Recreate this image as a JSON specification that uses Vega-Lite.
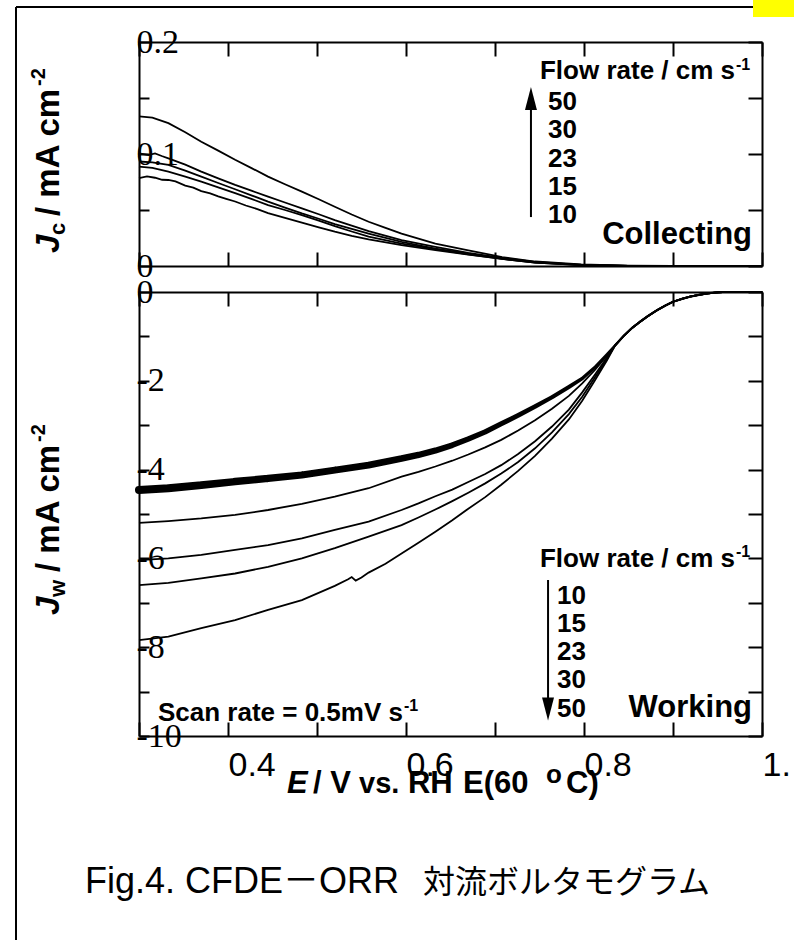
{
"$schema": "https://vega.github.io/schema/vega-lite/v6.json",
"autosize": {"type": "pad"},
"padding": {"left": 15, "top": 0, "right": 0, "bottom": 0},
"background": "white",
"bounds": "flush",
"spacing": 26,
"config": {"view": {"stroke": null}, "axis": {"grid": false, "domainColor": "black", "tickColor": "black", "labelColor": "black", "domainWidth": 2, "tickWidth": 2}},
"datasets": {
"col": [
{"flow":50,"E":0.300,"J":0.1336},{"flow":50,"E":0.315,"J":0.1325},{"flow":50,"E":0.333,"J":0.1275},{"flow":50,"E":0.352,"J":0.1195},{"flow":50,"E":0.370,"J":0.1110},{"flow":50,"E":0.389,"J":0.1030},{"flow":50,"E":0.408,"J":0.0948},{"flow":50,"E":0.427,"J":0.0872},{"flow":50,"E":0.445,"J":0.0798},{"flow":50,"E":0.464,"J":0.0730},{"flow":50,"E":0.483,"J":0.0664},{"flow":50,"E":0.502,"J":0.0596},{"flow":50,"E":0.520,"J":0.0529},{"flow":50,"E":0.539,"J":0.0460},{"flow":50,"E":0.558,"J":0.0395},{"flow":50,"E":0.577,"J":0.0340},{"flow":50,"E":0.595,"J":0.0290},{"flow":50,"E":0.633,"J":0.0200},{"flow":50,"E":0.670,"J":0.0140},{"flow":50,"E":0.708,"J":0.0080},{"flow":50,"E":0.745,"J":0.0040},{"flow":50,"E":0.797,"J":0.0015},{"flow":50,"E":0.850,"J":0.0004},{"flow":50,"E":0.900,"J":0.0},{"flow":50,"E":1.000,"J":0.0},
{"flow":30,"E":0.300,"J":0.1006},{"flow":30,"E":0.3105,"J":0.0991},{"flow":30,"E":0.318,"J":0.1006},{"flow":30,"E":0.3255,"J":0.0982},{"flow":30,"E":0.333,"J":0.0961},{"flow":30,"E":0.352,"J":0.0905},{"flow":30,"E":0.370,"J":0.0843},{"flow":30,"E":0.389,"J":0.0783},{"flow":30,"E":0.408,"J":0.0724},{"flow":30,"E":0.427,"J":0.0670},{"flow":30,"E":0.445,"J":0.0619},{"flow":30,"E":0.464,"J":0.0567},{"flow":30,"E":0.483,"J":0.0515},{"flow":30,"E":0.502,"J":0.0462},{"flow":30,"E":0.520,"J":0.0410},{"flow":30,"E":0.539,"J":0.0360},{"flow":30,"E":0.558,"J":0.0311},{"flow":30,"E":0.595,"J":0.0230},{"flow":30,"E":0.633,"J":0.0170},{"flow":30,"E":0.670,"J":0.0117},{"flow":30,"E":0.708,"J":0.0072},{"flow":30,"E":0.745,"J":0.0036},{"flow":30,"E":0.797,"J":0.0010},{"flow":30,"E":0.850,"J":0.0002},{"flow":30,"E":0.900,"J":0.0},{"flow":30,"E":1.000,"J":0.0},
{"flow":23,"E":0.300,"J":0.0933},{"flow":23,"E":0.315,"J":0.0925},{"flow":23,"E":0.333,"J":0.0903},{"flow":23,"E":0.352,"J":0.0852},{"flow":23,"E":0.370,"J":0.0798},{"flow":23,"E":0.389,"J":0.0741},{"flow":23,"E":0.408,"J":0.0685},{"flow":23,"E":0.427,"J":0.0629},{"flow":23,"E":0.445,"J":0.0574},{"flow":23,"E":0.464,"J":0.0522},{"flow":23,"E":0.483,"J":0.0470},{"flow":23,"E":0.502,"J":0.0422},{"flow":23,"E":0.520,"J":0.0374},{"flow":23,"E":0.539,"J":0.0332},{"flow":23,"E":0.558,"J":0.0290},{"flow":23,"E":0.595,"J":0.0215},{"flow":23,"E":0.633,"J":0.0156},{"flow":23,"E":0.670,"J":0.0111},{"flow":23,"E":0.708,"J":0.0066},{"flow":23,"E":0.745,"J":0.0033},{"flow":23,"E":0.797,"J":0.0010},{"flow":23,"E":0.850,"J":0.0002},{"flow":23,"E":0.900,"J":0.0},{"flow":23,"E":1.000,"J":0.0},
{"flow":15,"E":0.300,"J":0.0888},{"flow":15,"E":0.315,"J":0.0876},{"flow":15,"E":0.333,"J":0.0843},{"flow":15,"E":0.352,"J":0.0798},{"flow":15,"E":0.370,"J":0.0753},{"flow":15,"E":0.389,"J":0.0702},{"flow":15,"E":0.408,"J":0.0650},{"flow":15,"E":0.427,"J":0.0597},{"flow":15,"E":0.445,"J":0.0544},{"flow":15,"E":0.464,"J":0.0500},{"flow":15,"E":0.483,"J":0.0455},{"flow":15,"E":0.502,"J":0.0405},{"flow":15,"E":0.520,"J":0.0356},{"flow":15,"E":0.539,"J":0.0308},{"flow":15,"E":0.558,"J":0.0262},{"flow":15,"E":0.595,"J":0.0200},{"flow":15,"E":0.633,"J":0.0150},{"flow":15,"E":0.670,"J":0.0105},{"flow":15,"E":0.708,"J":0.0063},{"flow":15,"E":0.745,"J":0.0030},{"flow":15,"E":0.797,"J":0.0008},{"flow":15,"E":0.850,"J":0.0001},{"flow":15,"E":0.900,"J":0.0},{"flow":15,"E":1.000,"J":0.0},
{"flow":10,"E":0.300,"J":0.0784},{"flow":10,"E":0.309,"J":0.0800},{"flow":10,"E":0.318,"J":0.0788},{"flow":10,"E":0.326,"J":0.0770},{"flow":10,"E":0.333,"J":0.0768},{"flow":10,"E":0.341,"J":0.0755},{"flow":10,"E":0.352,"J":0.0718},{"flow":10,"E":0.361,"J":0.0700},{"flow":10,"E":0.370,"J":0.0668},{"flow":10,"E":0.380,"J":0.0648},{"flow":10,"E":0.389,"J":0.0622},{"flow":10,"E":0.398,"J":0.0600},{"flow":10,"E":0.408,"J":0.0576},{"flow":10,"E":0.420,"J":0.0540},{"flow":10,"E":0.433,"J":0.0508},{"flow":10,"E":0.445,"J":0.0472},{"flow":10,"E":0.464,"J":0.0430},{"flow":10,"E":0.483,"J":0.0388},{"flow":10,"E":0.502,"J":0.0345},{"flow":10,"E":0.520,"J":0.0306},{"flow":10,"E":0.539,"J":0.0270},{"flow":10,"E":0.558,"J":0.0238},{"flow":10,"E":0.595,"J":0.0186},{"flow":10,"E":0.633,"J":0.0141},{"flow":10,"E":0.670,"J":0.0102},{"flow":10,"E":0.708,"J":0.0063},{"flow":10,"E":0.745,"J":0.0030},{"flow":10,"E":0.797,"J":0.0008},{"flow":10,"E":0.850,"J":0.0001},{"flow":10,"E":0.900,"J":0.0},{"flow":10,"E":1.000,"J":0.0}
],
"work": [
{"flow":10,"E":0.300,"J":-4.46},{"flow":10,"E":0.333,"J":-4.42},{"flow":10,"E":0.370,"J":-4.35},{"flow":10,"E":0.408,"J":-4.27},{"flow":10,"E":0.445,"J":-4.20},{"flow":10,"E":0.483,"J":-4.12},{"flow":10,"E":0.520,"J":-4.01},{"flow":10,"E":0.558,"J":-3.90},{"flow":10,"E":0.595,"J":-3.75},{"flow":10,"E":0.614,"J":-3.67},{"flow":10,"E":0.633,"J":-3.57},{"flow":10,"E":0.652,"J":-3.45},{"flow":10,"E":0.670,"J":-3.31},{"flow":10,"E":0.689,"J":-3.15},{"flow":10,"E":0.707,"J":-2.97},{"flow":10,"E":0.726,"J":-2.78},{"flow":10,"E":0.745,"J":-2.58},{"flow":10,"E":0.764,"J":-2.37},{"flow":10,"E":0.783,"J":-2.14},{"flow":10,"E":0.798,"J":-1.95},{"flow":10,"E":0.812,"J":-1.70},{"flow":10,"E":0.826,"J":-1.40},{"flow":10,"E":0.835,"J":-1.20},{"flow":10,"E":0.845,"J":-0.98},{"flow":10,"E":0.854,"J":-0.81},{"flow":10,"E":0.863,"J":-0.67},{"flow":10,"E":0.872,"J":-0.54},{"flow":10,"E":0.882,"J":-0.41},{"flow":10,"E":0.891,"J":-0.31},{"flow":10,"E":0.900,"J":-0.22},{"flow":10,"E":0.910,"J":-0.155},{"flow":10,"E":0.919,"J":-0.105},{"flow":10,"E":0.929,"J":-0.065},{"flow":10,"E":0.938,"J":-0.035},{"flow":10,"E":0.947,"J":-0.013},{"flow":10,"E":0.956,"J":0.0},{"flow":10,"E":1.000,"J":0.0},
{"flow":15,"E":0.300,"J":-5.20},{"flow":15,"E":0.333,"J":-5.16},{"flow":15,"E":0.370,"J":-5.10},{"flow":15,"E":0.408,"J":-5.02},{"flow":15,"E":0.445,"J":-4.91},{"flow":15,"E":0.483,"J":-4.77},{"flow":15,"E":0.520,"J":-4.61},{"flow":15,"E":0.558,"J":-4.42},{"flow":15,"E":0.595,"J":-4.16},{"flow":15,"E":0.614,"J":-4.05},{"flow":15,"E":0.633,"J":-3.93},{"flow":15,"E":0.652,"J":-3.80},{"flow":15,"E":0.670,"J":-3.66},{"flow":15,"E":0.689,"J":-3.50},{"flow":15,"E":0.707,"J":-3.33},{"flow":15,"E":0.726,"J":-3.12},{"flow":15,"E":0.745,"J":-2.89},{"flow":15,"E":0.764,"J":-2.63},{"flow":15,"E":0.783,"J":-2.34},{"flow":15,"E":0.798,"J":-2.06},{"flow":15,"E":0.812,"J":-1.76},{"flow":15,"E":0.826,"J":-1.43},{"flow":15,"E":0.835,"J":-1.20},{"flow":15,"E":0.845,"J":-0.98},{"flow":15,"E":0.854,"J":-0.81},{"flow":15,"E":0.863,"J":-0.67},{"flow":15,"E":0.872,"J":-0.54},{"flow":15,"E":0.882,"J":-0.41},{"flow":15,"E":0.891,"J":-0.31},{"flow":15,"E":0.900,"J":-0.22},{"flow":15,"E":0.910,"J":-0.155},{"flow":15,"E":0.919,"J":-0.105},{"flow":15,"E":0.929,"J":-0.065},{"flow":15,"E":0.938,"J":-0.035},{"flow":15,"E":0.947,"J":-0.013},{"flow":15,"E":0.956,"J":0.0},{"flow":15,"E":1.000,"J":0.0},
{"flow":23,"E":0.300,"J":-6.04},{"flow":23,"E":0.333,"J":-6.00},{"flow":23,"E":0.370,"J":-5.92},{"flow":23,"E":0.408,"J":-5.81},{"flow":23,"E":0.445,"J":-5.70},{"flow":23,"E":0.483,"J":-5.55},{"flow":23,"E":0.520,"J":-5.36},{"flow":23,"E":0.558,"J":-5.17},{"flow":23,"E":0.595,"J":-4.91},{"flow":23,"E":0.614,"J":-4.76},{"flow":23,"E":0.633,"J":-4.60},{"flow":23,"E":0.652,"J":-4.45},{"flow":23,"E":0.670,"J":-4.28},{"flow":23,"E":0.689,"J":-4.10},{"flow":23,"E":0.707,"J":-3.90},{"flow":23,"E":0.726,"J":-3.65},{"flow":23,"E":0.745,"J":-3.36},{"flow":23,"E":0.764,"J":-3.03},{"flow":23,"E":0.783,"J":-2.65},{"flow":23,"E":0.798,"J":-2.26},{"flow":23,"E":0.812,"J":-1.87},{"flow":23,"E":0.826,"J":-1.47},{"flow":23,"E":0.835,"J":-1.20},{"flow":23,"E":0.845,"J":-0.98},{"flow":23,"E":0.854,"J":-0.81},{"flow":23,"E":0.863,"J":-0.67},{"flow":23,"E":0.872,"J":-0.54},{"flow":23,"E":0.882,"J":-0.41},{"flow":23,"E":0.891,"J":-0.31},{"flow":23,"E":0.900,"J":-0.22},{"flow":23,"E":0.910,"J":-0.155},{"flow":23,"E":0.919,"J":-0.105},{"flow":23,"E":0.929,"J":-0.065},{"flow":23,"E":0.938,"J":-0.035},{"flow":23,"E":0.947,"J":-0.013},{"flow":23,"E":0.956,"J":0.0},{"flow":23,"E":1.000,"J":0.0},
{"flow":30,"E":0.300,"J":-6.60},{"flow":30,"E":0.333,"J":-6.55},{"flow":30,"E":0.370,"J":-6.45},{"flow":30,"E":0.408,"J":-6.34},{"flow":30,"E":0.445,"J":-6.19},{"flow":30,"E":0.483,"J":-6.00},{"flow":30,"E":0.520,"J":-5.77},{"flow":30,"E":0.558,"J":-5.51},{"flow":30,"E":0.595,"J":-5.25},{"flow":30,"E":0.614,"J":-5.08},{"flow":30,"E":0.633,"J":-4.90},{"flow":30,"E":0.652,"J":-4.71},{"flow":30,"E":0.670,"J":-4.52},{"flow":30,"E":0.689,"J":-4.31},{"flow":30,"E":0.707,"J":-4.09},{"flow":30,"E":0.726,"J":-3.83},{"flow":30,"E":0.745,"J":-3.52},{"flow":30,"E":0.764,"J":-3.16},{"flow":30,"E":0.783,"J":-2.75},{"flow":30,"E":0.798,"J":-2.36},{"flow":30,"E":0.812,"J":-1.93},{"flow":30,"E":0.826,"J":-1.50},{"flow":30,"E":0.835,"J":-1.20},{"flow":30,"E":0.845,"J":-0.98},{"flow":30,"E":0.854,"J":-0.81},{"flow":30,"E":0.863,"J":-0.67},{"flow":30,"E":0.872,"J":-0.54},{"flow":30,"E":0.882,"J":-0.41},{"flow":30,"E":0.891,"J":-0.31},{"flow":30,"E":0.900,"J":-0.22},{"flow":30,"E":0.910,"J":-0.155},{"flow":30,"E":0.919,"J":-0.105},{"flow":30,"E":0.929,"J":-0.065},{"flow":30,"E":0.938,"J":-0.035},{"flow":30,"E":0.947,"J":-0.013},{"flow":30,"E":0.956,"J":0.0},{"flow":30,"E":1.000,"J":0.0},
{"flow":50,"E":0.300,"J":-7.84},{"flow":50,"E":0.333,"J":-7.76},{"flow":50,"E":0.370,"J":-7.57},{"flow":50,"E":0.408,"J":-7.39},{"flow":50,"E":0.445,"J":-7.16},{"flow":50,"E":0.483,"J":-6.94},{"flow":50,"E":0.520,"J":-6.62},{"flow":50,"E":0.535,"J":-6.47},{"flow":50,"E":0.539,"J":-6.42},{"flow":50,"E":0.5435,"J":-6.50},{"flow":50,"E":0.550,"J":-6.43},{"flow":50,"E":0.558,"J":-6.32},{"flow":50,"E":0.577,"J":-6.12},{"flow":50,"E":0.595,"J":-5.89},{"flow":50,"E":0.614,"J":-5.65},{"flow":50,"E":0.633,"J":-5.40},{"flow":50,"E":0.652,"J":-5.14},{"flow":50,"E":0.670,"J":-4.88},{"flow":50,"E":0.689,"J":-4.62},{"flow":50,"E":0.707,"J":-4.34},{"flow":50,"E":0.726,"J":-4.03},{"flow":50,"E":0.745,"J":-3.69},{"flow":50,"E":0.764,"J":-3.30},{"flow":50,"E":0.783,"J":-2.87},{"flow":50,"E":0.798,"J":-2.45},{"flow":50,"E":0.812,"J":-2.00},{"flow":50,"E":0.826,"J":-1.53},{"flow":50,"E":0.835,"J":-1.20},{"flow":50,"E":0.845,"J":-0.98},{"flow":50,"E":0.854,"J":-0.81},{"flow":50,"E":0.863,"J":-0.67},{"flow":50,"E":0.872,"J":-0.54},{"flow":50,"E":0.882,"J":-0.41},{"flow":50,"E":0.891,"J":-0.31},{"flow":50,"E":0.900,"J":-0.22},{"flow":50,"E":0.910,"J":-0.155},{"flow":50,"E":0.919,"J":-0.105},{"flow":50,"E":0.929,"J":-0.065},{"flow":50,"E":0.938,"J":-0.035},{"flow":50,"E":0.947,"J":-0.013},{"flow":50,"E":0.956,"J":0.0},{"flow":50,"E":1.000,"J":0.0}
]
},
"vconcat": [
{
"width": 623, "height": 224,
"data": {"values": [{}]},
"resolve": {"axis": {"x": "independent", "y": "independent"}},
"layer": [
{"data": {"name": "col"},
 "mark": {"type": "line", "color": "black", "strokeWidth": 1.8},
 "encoding": {
  "x": {"field": "E", "type": "quantitative", "scale": {"domain": [0.3, 1.0], "nice": false, "zero": false}, "axis": {"orient": "bottom", "values": [0.3,0.4,0.5,0.6,0.7,0.8,0.9,1.0], "tickSize": -14, "labels": false, "title": null}},
  "y": {"field": "J", "type": "quantitative", "scale": {"domain": [0, 0.2], "nice": false, "zero": false}, "axis": {"orient": "left", "values": [0,0.05,0.1,0.15,0.2], "tickSize": -10, "labels": false, "title": null}},
  "detail": {"field": "flow", "type": "nominal"}}},
{"mark": {"type": "text", "text": "Collecting", "font": "Liberation Sans", "fontWeight": "bold", "fontSize": 31, "align": "right", "baseline": "alphabetic", "color": "black"},
 "encoding": {
  "x": {"datum": 0.9888, "type": "quantitative", "axis": {"orient": "top", "values": [0.3,0.4,0.5,0.6,0.7,0.8,0.9,1.0], "tickSize": -14, "labels": false, "title": null}},
  "y": {"datum": 0.0196, "type": "quantitative", "axis": {"orient": "right", "values": [0,0.05,0.1,0.15,0.2], "tickSize": -14, "labels": false, "title": null}}}},
{"mark": {"type": "text", "text": "Flow rate / cm s", "font": "Liberation Sans", "fontWeight": "bold", "fontSize": 26, "align": "right", "baseline": "alphabetic", "color": "black"},
 "encoding": {
  "x": {"datum": 0.9697, "type": "quantitative", "axis": null},
  "y": {"datum": 0.167, "type": "quantitative", "axis": {"orient": "left", "values": [0,0.1,0.2], "ticks": false, "domain": false, "labelFont": "Liberation Serif", "labelFontSize": 34, "labelAlign": "left", "labelBaseline": "middle", "labelPadding": 3, "labelFlush": false, "labelOverlap": false, "format": "~g", "title": null}}}},
{"mark": {"type": "text", "text": "-1", "font": "Liberation Sans", "fontWeight": "bold", "fontSize": 16, "align": "left", "baseline": "alphabetic", "color": "black"},
 "encoding": {"x": {"datum": 0.9708, "type": "quantitative", "axis": null}, "y": {"datum": 0.175, "type": "quantitative", "axis": null}}},
{"mark": {"type": "text", "text": ["50","30","23","15","10"], "lineHeight": 28.3, "font": "Liberation Sans", "fontWeight": "bold", "fontSize": 26, "align": "left", "baseline": "alphabetic", "color": "black"},
 "encoding": {"x": {"datum": 0.7596, "type": "quantitative", "axis": null}, "y": {"datum": 0.1393, "type": "quantitative", "axis": null}}},
{"mark": {"type": "rule", "color": "black", "strokeWidth": 2},
 "encoding": {"x": {"datum": 0.7404, "type": "quantitative", "axis": null}, "y": {"datum": 0.0437, "type": "quantitative", "axis": null}, "y2": {"datum": 0.1437}}},
{"mark": {"type": "point", "shape": "M0,-1L0.52,1L-0.52,1Z", "size": 529, "filled": true, "color": "black", "opacity": 1},
 "encoding": {"x": {"datum": 0.7404, "type": "quantitative", "axis": null}, "y": {"datum": 0.1496, "type": "quantitative", "axis": null}}},
{"mark": {"type": "text", "text": "J", "angle": 270, "font": "Liberation Sans", "fontWeight": "bold", "fontStyle": "italic", "fontSize": 33, "align": "left", "baseline": "alphabetic", "color": "black"},
 "encoding": {"x": {"datum": 0.2101, "type": "quantitative", "axis": null}, "y": {"datum": 0.0116, "type": "quantitative", "axis": null}}},
{"mark": {"type": "text", "text": "c", "angle": 270, "font": "Liberation Sans", "fontWeight": "bold", "fontSize": 22, "align": "left", "baseline": "alphabetic", "color": "black"},
 "encoding": {"x": {"datum": 0.2169, "type": "quantitative", "axis": null}, "y": {"datum": 0.0277, "type": "quantitative", "axis": null}}},
{"mark": {"type": "text", "text": "/ mA cm", "angle": 270, "font": "Liberation Sans", "fontWeight": "bold", "fontSize": 33, "align": "left", "baseline": "alphabetic", "color": "black"},
 "encoding": {"x": {"datum": 0.2101, "type": "quantitative", "axis": null}, "y": {"datum": 0.0446, "type": "quantitative", "axis": null}}},
{"mark": {"type": "text", "text": "-2", "angle": 270, "font": "Liberation Sans", "fontWeight": "bold", "fontSize": 20, "align": "left", "baseline": "alphabetic", "color": "black"},
 "encoding": {"x": {"datum": 0.1944, "type": "quantitative", "axis": null}, "y": {"datum": 0.1607, "type": "quantitative", "axis": null}}},
{"mark": {"type": "rule", "color": "black", "strokeWidth": 2},
 "encoding": {"x": {"datum": 0.1618, "type": "quantitative", "axis": null}, "y": {"datum": 0.23125, "type": "quantitative", "axis": null}, "y2": {"datum": -0.60179}}},
{"mark": {"type": "rule", "color": "black", "strokeWidth": 2},
 "encoding": {"x": {"datum": 0.1618, "type": "quantitative", "axis": null}, "x2": {"datum": 0.98989}, "y": {"datum": 0.23125, "type": "quantitative", "axis": null}}},
{"mark": {"type": "rect", "color": "#FFFF00"},
 "encoding": {"x": {"datum": 0.98989, "type": "quantitative", "axis": null}, "x2": {"datum": 1.03596}, "y": {"datum": 0.2375, "type": "quantitative", "axis": null}, "y2": {"datum": 0.22232}}}
]
},
{
"width": 623, "height": 444,
"data": {"values": [{}]},
"resolve": {"axis": {"x": "independent", "y": "independent"}},
"layer": [
{"data": {"name": "work"}, "transform": [{"filter": "datum.flow != 10"}],
 "mark": {"type": "line", "color": "black", "strokeWidth": 1.8},
 "encoding": {
  "x": {"field": "E", "type": "quantitative", "scale": {"domain": [0.3, 1.0], "nice": false, "zero": false}, "axis": {"orient": "bottom", "values": [0.3,0.4,0.5,0.6,0.7,0.8,0.9,1.0], "tickSize": -14, "labels": false, "title": null}},
  "y": {"field": "J", "type": "quantitative", "scale": {"domain": [-10, 0], "nice": false, "zero": false}, "axis": {"orient": "left", "values": [-10,-9,-8,-7,-6,-5,-4,-3,-2,-1,0], "tickSize": -10, "labels": false, "title": null}},
  "detail": {"field": "flow", "type": "nominal"}}},
{"data": {"name": "work"}, "transform": [{"filter": "datum.flow == 10"}],
 "mark": {"type": "trail", "color": "black"},
 "encoding": {
  "x": {"field": "E", "type": "quantitative", "axis": {"orient": "top", "values": [0.3,0.4,0.5,0.6,0.7,0.8,0.9,1.0], "tickSize": -14, "labels": false, "title": null}},
  "y": {"field": "J", "type": "quantitative", "axis": {"orient": "right", "values": [-10,-9,-8,-7,-6,-5,-4,-3,-2,-1,0], "tickSize": -14, "labels": false, "title": null}},
  "size": {"field": "E", "type": "quantitative", "scale": {"domain": [0.3,0.6,0.78,0.84,1.0], "range": [8,6.5,4,2.2,2], "zero": false}, "legend": null}}},
{"mark": {"type": "text", "text": "Flow rate / cm s", "font": "Liberation Sans", "fontWeight": "bold", "fontSize": 26, "align": "right", "baseline": "alphabetic", "color": "black"},
 "encoding": {
  "x": {"datum": 0.9697, "type": "quantitative", "axis": {"orient": "bottom", "values": [0.4,0.6,0.8,1.0], "ticks": false, "domain": false, "labelFont": "Liberation Sans", "labelFontSize": 34, "labelAlign": "left", "labelBaseline": "alphabetic", "labelPadding": 39, "labelFlush": false, "labelOverlap": false, "labelExpr": "datum.value >= 0.99 ? '1.' : format(datum.value, '.1f')", "title": null}},
  "y": {"datum": -6.194, "type": "quantitative", "axis": {"orient": "left", "values": [0,-2,-4,-6,-8,-10], "ticks": false, "domain": false, "labelFont": "Liberation Serif", "labelFontSize": 34, "labelAlign": "left", "labelBaseline": "middle", "labelPadding": 3, "labelFlush": false, "labelOverlap": false, "labelExpr": "datum.value < 0 ? '-' + (-datum.value) : '0'", "title": null}}}},
{"mark": {"type": "text", "text": "-1", "font": "Liberation Sans", "fontWeight": "bold", "fontSize": 16, "align": "left", "baseline": "alphabetic", "color": "black"},
 "encoding": {"x": {"datum": 0.9708, "type": "quantitative", "axis": null}, "y": {"datum": -5.97, "type": "quantitative", "axis": null}}},
{"mark": {"type": "text", "text": ["10","15","23","30","50"], "lineHeight": 28.3, "font": "Liberation Sans", "fontWeight": "bold", "fontSize": 26, "align": "left", "baseline": "alphabetic", "color": "black"},
 "encoding": {"x": {"datum": 0.7697, "type": "quantitative", "axis": null}, "y": {"datum": -7.016, "type": "quantitative", "axis": null}}},
{"mark": {"type": "rule", "color": "black", "strokeWidth": 2},
 "encoding": {"x": {"datum": 0.7596, "type": "quantitative", "axis": null}, "y": {"datum": -6.486, "type": "quantitative", "axis": null}, "y2": {"datum": -9.25}}},
{"mark": {"type": "point", "shape": "M0,1L0.52,-1L-0.52,-1Z", "size": 529, "filled": true, "color": "black", "opacity": 1},
 "encoding": {"x": {"datum": 0.7596, "type": "quantitative", "axis": null}, "y": {"datum": -9.392, "type": "quantitative", "axis": null}}},
{"mark": {"type": "text", "text": "Working", "font": "Liberation Sans", "fontWeight": "bold", "fontSize": 31, "align": "right", "baseline": "alphabetic", "color": "black"},
 "encoding": {"x": {"datum": 0.9888, "type": "quantitative", "axis": null}, "y": {"datum": -9.572, "type": "quantitative", "axis": null}}},
{"mark": {"type": "text", "text": "Scan rate = 0.5mV s", "font": "Liberation Sans", "fontWeight": "bold", "fontSize": 26, "align": "left", "baseline": "alphabetic", "color": "black"},
 "encoding": {"x": {"datum": 0.3213, "type": "quantitative", "axis": null}, "y": {"datum": -9.662, "type": "quantitative", "axis": null}}},
{"mark": {"type": "text", "text": "-1", "font": "Liberation Sans", "fontWeight": "bold", "fontSize": 16, "align": "left", "baseline": "alphabetic", "color": "black"},
 "encoding": {"x": {"datum": 0.5977, "type": "quantitative", "axis": null}, "y": {"datum": -9.437, "type": "quantitative", "axis": null}}},
{"mark": {"type": "text", "text": "E", "font": "Liberation Sans", "fontWeight": "bold", "fontStyle": "italic", "fontSize": 31, "align": "left", "baseline": "alphabetic", "color": "black"},
 "encoding": {"x": {"datum": 0.4663, "type": "quantitative", "axis": null}, "y": {"datum": -11.284, "type": "quantitative", "axis": null}}},
{"mark": {"type": "text", "text": "/ V", "font": "Liberation Sans", "fontWeight": "bold", "fontSize": 31, "align": "left", "baseline": "alphabetic", "color": "black"},
 "encoding": {"x": {"datum": 0.4955, "type": "quantitative", "axis": null}, "y": {"datum": -11.284, "type": "quantitative", "axis": null}}},
{"mark": {"type": "text", "text": "vs.", "font": "Liberation Sans", "fontWeight": "bold", "fontSize": 29, "align": "left", "baseline": "alphabetic", "color": "black"},
 "encoding": {"x": {"datum": 0.5472, "type": "quantitative", "axis": null}, "y": {"datum": -11.284, "type": "quantitative", "axis": null}}},
{"mark": {"type": "text", "text": "RH", "font": "Liberation Sans", "fontWeight": "bold", "fontSize": 31, "align": "left", "baseline": "alphabetic", "color": "black"},
 "encoding": {"x": {"datum": 0.6022, "type": "quantitative", "axis": null}, "y": {"datum": -11.284, "type": "quantitative", "axis": null}}},
{"mark": {"type": "text", "text": "E(60", "font": "Liberation Sans", "fontWeight": "bold", "fontSize": 31, "align": "left", "baseline": "alphabetic", "color": "black"},
 "encoding": {"x": {"datum": 0.6640, "type": "quantitative", "axis": null}, "y": {"datum": -11.284, "type": "quantitative", "axis": null}}},
{"mark": {"type": "text", "text": "o", "font": "Liberation Sans", "fontWeight": "bold", "fontSize": 26, "align": "left", "baseline": "alphabetic", "color": "black"},
 "encoding": {"x": {"datum": 0.7573, "type": "quantitative", "axis": null}, "y": {"datum": -11.06, "type": "quantitative", "axis": null}}},
{"mark": {"type": "text", "text": "C)", "font": "Liberation Sans", "fontWeight": "bold", "fontSize": 31, "align": "left", "baseline": "alphabetic", "color": "black"},
 "encoding": {"x": {"datum": 0.7798, "type": "quantitative", "axis": null}, "y": {"datum": -11.284, "type": "quantitative", "axis": null}}},
{"mark": {"type": "text", "text": "J", "angle": 270, "font": "Liberation Sans", "fontWeight": "bold", "fontStyle": "italic", "fontSize": 33, "align": "left", "baseline": "alphabetic", "color": "black"},
 "encoding": {"x": {"datum": 0.2101, "type": "quantitative", "axis": null}, "y": {"datum": -7.275, "type": "quantitative", "axis": null}}},
{"mark": {"type": "text", "text": "w", "angle": 270, "font": "Liberation Sans", "fontWeight": "bold", "fontSize": 22, "align": "left", "baseline": "alphabetic", "color": "black"},
 "encoding": {"x": {"datum": 0.2169, "type": "quantitative", "axis": null}, "y": {"datum": -6.869, "type": "quantitative", "axis": null}}},
{"mark": {"type": "text", "text": "/ mA cm", "angle": 270, "font": "Liberation Sans", "fontWeight": "bold", "fontSize": 33, "align": "left", "baseline": "alphabetic", "color": "black"},
 "encoding": {"x": {"datum": 0.2101, "type": "quantitative", "axis": null}, "y": {"datum": -6.306, "type": "quantitative", "axis": null}}},
{"mark": {"type": "text", "text": "-2", "angle": 270, "font": "Liberation Sans", "fontWeight": "bold", "fontSize": 20, "align": "left", "baseline": "alphabetic", "color": "black"},
 "encoding": {"x": {"datum": 0.1944, "type": "quantitative", "axis": null}, "y": {"datum": -3.378, "type": "quantitative", "axis": null}}},
{"mark": {"type": "text", "text": "Fig.4. CFDE－ORR", "font": "Liberation Sans, Noto Sans CJK JP", "fontSize": 36, "align": "left", "baseline": "alphabetic", "color": "black"},
 "encoding": {"x": {"datum": 0.2393, "type": "quantitative", "axis": null}, "y": {"datum": -13.536, "type": "quantitative", "axis": null}}},
{"mark": {"type": "text", "text": "対流ボルタモグラム", "font": "Noto Sans CJK JP", "fontSize": 32, "align": "left", "baseline": "alphabetic", "color": "black"},
 "encoding": {"x": {"datum": 0.6191, "type": "quantitative", "axis": null}, "y": {"datum": -13.536, "type": "quantitative", "axis": null}}}
]
}
]
}
